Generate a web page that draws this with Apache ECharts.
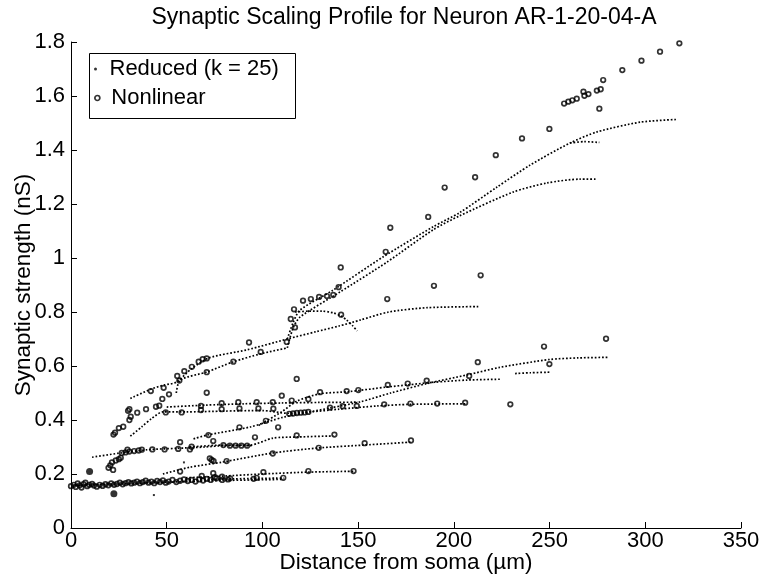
<!DOCTYPE html>
<html>
<head>
<meta charset="utf-8">
<script src="https://cdn.jsdelivr.net/npm/echarts@6/dist/echarts.min.js"></script>
<style>html,body{margin:0;padding:0;background:#fff}#chart{width:766px;height:577px}</style>
</head>
<body>
<div id="chart"></div>
<script>
// ---- axis ticks ----
const xTicks = [0, 50, 100, 150, 200, 250, 300, 350];
const yTicks = [0, 0.2, 0.4, 0.6, 0.8, 1, 1.2, 1.4, 1.6, 1.8];

// ---- Reduced model (k = 25): dotted profiles along dendritic paths ----
const redTop = [[113,0.70],[116,0.76],[119.6,0.807],[136.9,0.881],[163,1.004],[189,1.115],[203,1.168],[222.6,1.263],[239.8,1.344],[260.7,1.426],[274.8,1.467],[297.3,1.503],[316,1.513]];
const redBranch = [[260.7,1.426],[268,1.431],[276,1.428]];
const red129 = [[113,0.667],[116,0.74],[119.6,0.781],[140.5,0.874],[165.1,0.985],[189.1,1.104],[203.2,1.157],[230.9,1.244],[248.7,1.278],[265.9,1.292],[275,1.292]];
const red082 = [[31,0.48],[42,0.515],[49,0.53],[55,0.54],[63,0.59],[72,0.63],[92,0.66],[113,0.70],[128,0.727],[140,0.748],[151,0.77],[166,0.80],[186,0.816],[213,0.82]];
const red066 = [[55,0.50],[57,0.548],[71,0.578],[84.6,0.615],[99,0.645],[113,0.667]];
const redBump = [[117,0.80],[124,0.803],[131,0.803],[137,0.797],[141,0.785],[144,0.77],[147,0.75],[149.5,0.73]];
const red063 = [[64,0.33],[71,0.344],[93.5,0.374],[110.8,0.41],[135,0.444],[151,0.467],[167,0.50],[186,0.535],[207,0.567],[224,0.595],[250,0.624],[265,0.63],[281,0.632]];
const red057a = [[98,0.38],[110,0.43],[118,0.47],[130,0.497],[145,0.505],[165,0.522],[176,0.53],[190,0.54],[207,0.548],[224,0.551]];
const red057b = [[232,0.572],[240,0.575],[250,0.577]];
const red046 = [[50,0.448],[70,0.455],[90,0.46],[110,0.463],[130,0.465],[150,0.466]];
const red044 = [[31,0.34],[37,0.375],[42,0.405],[48,0.43],[60,0.43],[80,0.433],[100,0.435],[113,0.425],[125,0.43],[140,0.44],[160,0.452],[177,0.458],[206,0.46]];
const red034 = [[62,0.30],[79,0.307],[93.5,0.307],[105.5,0.333],[118,0.337],[137,0.341]];
const red029 = [[11,0.262],[25,0.277],[40,0.29],[55,0.295],[70,0.30],[80,0.305],[95,0.305]];
const red030 = [[48,0.20],[62,0.225],[79,0.244],[105.5,0.278],[128.5,0.296],[152.6,0.307],[177.6,0.318]];
const red021 = [[60,0.186],[79,0.192],[100,0.2],[124,0.207],[147.5,0.21]];
const red019 = [[60,0.178],[85,0.182],[111,0.185]];
const redBand = [[0,0.158],[20,0.162],[40,0.167],[60,0.172],[80,0.176],[95,0.178],[110,0.18]];
const redStray = [[43.3,0.122],[59,0.243]];

// ---- Nonlinear model (circles) ----
const nlTop = [[317.8,1.795],[307.7,1.764],[298,1.731],[288,1.696],[278,1.659],[276.7,1.625],[274.7,1.620],[276,1.553],[270.3,1.607],[268.2,1.601],[267.7,1.616],[264.2,1.590],[261.9,1.584],[259.8,1.579],[257.6,1.572],[249.9,1.478],[235.6,1.443],[221.9,1.381],[211.1,1.299],[195.2,1.261],[186.6,1.152],[166.8,1.112],[164.4,1.023],[140.9,0.965],[139.8,0.892],[137,0.863],[133.7,0.859],[129.6,0.856],[125.3,0.848],[121.2,0.842],[116.5,0.810],[114.8,0.774],[117,0.743],[141.1,0.790],[165.2,0.848],[189.6,0.897],[214,0.936]];
const nlMid = [[112.7,0.689],[93,0.687],[99.1,0.652],[84.8,0.616],[70.9,0.577],[70.9,0.628],[68.8,0.625],[66.7,0.616],[63.1,0.597],[59.2,0.581],[55.5,0.563],[56.6,0.546],[51.2,0.495],[47.7,0.478],[48.4,0.519],[41.7,0.507],[70.9,0.501],[117.9,0.552],[110.1,0.490],[130.1,0.503],[144,0.507],[150.1,0.511],[165.5,0.530],[175.9,0.535],[185.8,0.546],[208,0.563],[212.5,0.614],[247.1,0.672],[249.9,0.607],[279.5,0.701]];
const nlRow = [[46.1,0.453],[44.4,0.449],[39.2,0.440],[34.6,0.427],[31.2,0.412],[30.5,0.44],[29.8,0.434],[30.5,0.40],[27.3,0.375],[25,0.37],[23,0.353],[22.2,0.346],[49.5,0.428],[57.8,0.428],[67.9,0.452],[67.9,0.437],[78.7,0.462],[78.7,0.44],[87.4,0.466],[88,0.443],[97,0.466],[97.9,0.443],[105.4,0.466],[105.7,0.442],[115.3,0.472],[124,0.477],[114,0.423],[116,0.424],[118,0.426],[120,0.427],[122,0.428],[124,0.43],[135.3,0.446],[141.9,0.451],[149.3,0.452],[163.6,0.458],[177.3,0.461],[191.3,0.461],[205.9,0.464],[229.5,0.458]];
const nlLow = [[88,0.373],[101.8,0.397],[108.2,0.373],[71.8,0.344],[74.3,0.322],[96.1,0.336],[117.9,0.343],[137.6,0.346],[63,0.301],[79.6,0.307],[83,0.305],[86,0.305],[89,0.305],[92,0.305],[105.4,0.276],[129.4,0.297],[153.4,0.314],[177.6,0.324],[73.5,0.252],[72.5,0.258],[74.5,0.248],[81.3,0.248],[100.5,0.207],[124,0.211],[147.6,0.211],[57,0.318],[62.1,0.291],[48.9,0.291],[42.5,0.291],[37,0.29],[35.4,0.287],[33,0.285],[30.5,0.283],[28.5,0.28],[26.5,0.278],[29.5,0.29],[56,0.293],[19.6,0.223],[20.5,0.232],[21.4,0.243],[23.4,0.25],[25,0.255],[26,0.26],[22,0.215],[57,0.209],[68.3,0.193],[74.3,0.203],[75.2,0.188],[83.1,0.184],[97,0.186],[110.9,0.186],[95.4,0.182],[78.9,0.19]];
const nlBand = [[0,0.155],[1.5,0.16],[2.5,0.152],[3.5,0.165],[4.5,0.158],[5.5,0.15],[6.5,0.162],[7.5,0.168],[8.5,0.155],[9.5,0.16],[11,0.163],[12,0.157],[13.5,0.153],[15,0.16],[16.5,0.156],[18,0.162],[19.5,0.158],[21,0.165],[22.5,0.16],[24,0.163],[25.5,0.168],[27,0.162],[28.5,0.166],[30,0.17],[31.5,0.165],[33,0.168],[34.5,0.172],[36,0.166],[37.5,0.17],[39,0.175],[40.5,0.168],[42,0.172],[43.5,0.166],[45,0.174],[46.5,0.17],[48,0.176],[49.5,0.168],[51,0.172],[53,0.178],[55,0.17],[57,0.175],[59,0.18],[61,0.174],[63,0.178],[65,0.172],[67,0.18],[69,0.176],[71,0.182],[73,0.178],[76,0.184],[79,0.178],[82,0.18]];
const nlFilled = [[22.4,0.127],[9.7,0.209]];

const reducedCurves = [redTop, redBranch, red129, red082, red066, redBump, red063, red057a, red057b, red046, red044, red034, red029, red030, red021, red019, redBand];
const nonlinearSets = [nlTop, nlMid, nlRow, nlLow, nlBand];

const FONT = 'Liberation Sans, Arial, Helvetica, sans-serif';
const series = [];
reducedCurves.forEach(function (c) {
  series.push({
    type: 'line', data: c, symbol: 'none', smooth: 0.25, silent: true, z: 2,
    lineStyle: { color: '#000', width: 1.7, type: [1.7, 1.9] }
  });
});
series.push({ type: 'scatter', data: redStray, symbol: 'rect', symbolSize: 2, itemStyle: { color: '#000' }, silent: true, z: 2 });
nonlinearSets.forEach(function (s) {
  series.push({
    name: 'Nonlinear', type: 'scatter', data: s, symbol: 'circle', symbolSize: 4.6, silent: true, z: 3,
    itemStyle: { color: 'rgba(0,0,0,0)', borderColor: '#000', borderWidth: 1.7 }
  });
});
series.push({ name: 'Nonlinear', type: 'scatter', data: nlFilled, symbol: 'circle', symbolSize: 7, silent: true, z: 3, itemStyle: { color: '#000' } });
// legend-only entry for reduced model
series.push({ name: 'Reduced (k = 25)', type: 'scatter', data: [], itemStyle: { color: '#000' } });

const chart = echarts.init(document.getElementById('chart'), null, { renderer: 'canvas' });
chart.setOption({
  animation: false,
  backgroundColor: '#fff',
  title: {
    text: 'Synaptic Scaling Profile for Neuron AR-1-20-04-A',
    left: 399, top: 1, textAlign: 'center',
    textStyle: { fontFamily: FONT, fontSize: 23, fontWeight: 'normal', color: '#000' }
  },
  grid: { left: 71, right: 25, top: 42, bottom: 49, containLabel: false, outerBoundsMode: 'none' },
  legend: [
    {
      data: [{ name: 'Reduced (k = 25)', icon: 'circle', itemStyle: { color: '#000' } }],
      left: 89, top: 53, itemWidth: 18, itemHeight: 3, selectedMode: false,
      textStyle: { fontFamily: FONT, fontSize: 22, color: '#000' }
    },
    {
      data: [{ name: 'Nonlinear', icon: 'circle', itemStyle: { color: 'rgba(0,0,0,0)', borderColor: '#000', borderWidth: 1.7 } }],
      left: 89, top: 82, itemWidth: 18, itemHeight: 5, selectedMode: false,
      textStyle: { fontFamily: FONT, fontSize: 22, color: '#000' }
    }
  ],
  graphic: [{
    type: 'rect', left: 87, top: 51, shape: { width: 206, height: 65 },
    style: { fill: 'none', stroke: '#000', lineWidth: 1 }, z: 10, silent: true
  }],
  xAxis: {
    type: 'value', min: xTicks[0], max: xTicks[xTicks.length - 1], interval: 50,
    name: 'Distance from soma (µm)', nameLocation: 'middle', nameGap: 23, nameMoveOverlap: false,
    nameTextStyle: { fontFamily: FONT, fontSize: 22.5, color: '#000' },
    axisLine: { show: true, lineStyle: { color: '#000', width: 1 } },
    axisTick: { show: true, inside: true, length: 6, lineStyle: { color: '#000' } },
    axisLabel: { fontFamily: FONT, fontSize: 22, color: '#000', margin: 2 },
    splitLine: { show: false }
  },
  yAxis: {
    type: 'value', min: yTicks[0], max: yTicks[yTicks.length - 1], interval: 0.2,
    name: 'Synaptic strength (nS)', nameLocation: 'middle', nameGap: 36, nameMoveOverlap: false,
    nameTextStyle: { fontFamily: FONT, fontSize: 22.5, color: '#000' },
    axisLine: { show: true, lineStyle: { color: '#000', width: 1 } },
    axisTick: { show: true, inside: true, length: 6, lineStyle: { color: '#000' } },
    axisLabel: { fontFamily: FONT, fontSize: 22, color: '#000', margin: 6,
      formatter: function (v) { return String(Math.round(v * 10) / 10); } },
    splitLine: { show: false }
  },
  series: series
});
</script>
</body>
</html>
